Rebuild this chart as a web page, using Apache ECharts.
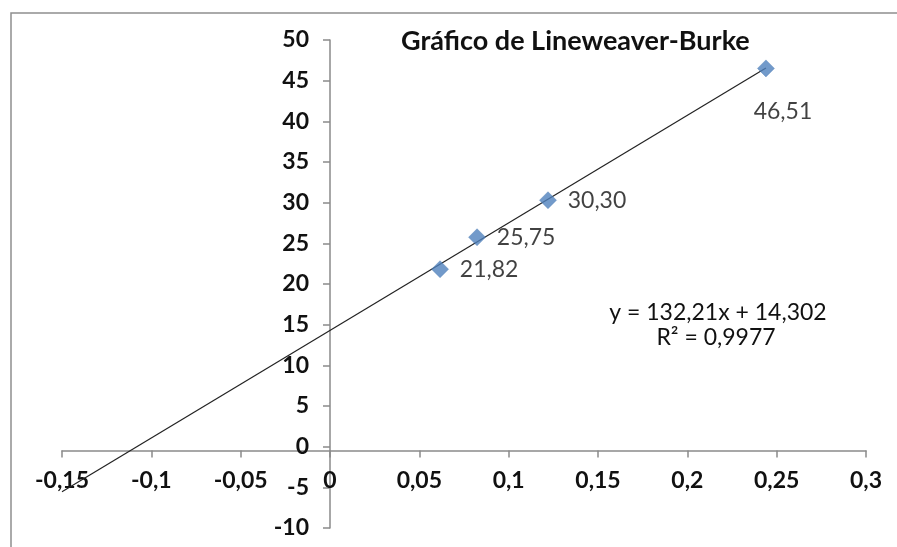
<!DOCTYPE html>
<html>
<head>
<meta charset="utf-8">
<script src="https://cdn.jsdelivr.net/npm/echarts@6/dist/echarts.min.js"></script>
<style>
  html, body { margin: 0; padding: 0; background: #fff; }
  #chart { width: 897px; height: 547px; }
</style>
</head>
<body>
<div id="chart"></div>
<script>
// 1/[S] values and 1/v values (Lineweaver-Burke double reciprocal)
const invS = [0.0616, 0.0823, 0.1220, 0.2440];
const invV = [21.82, 25.75, 30.30, 46.51];

// Linear trendline coefficients and fit quality
const slope = 132.21;
const intercept = 14.302;
const rSquared = 0.9977;

// Axis ranges and steps
const xMin = -0.15, xMax = 0.3, xStep = 0.05;
const yMin = -10, yMax = 50, yStep = 5;

const titleText = 'Gráfico de Lineweaver-Burke';

const fmtNum = (v, d) => (d === undefined ? String(parseFloat(v.toFixed(4))) : v.toFixed(d)).replace('.', ',');

const trendStart = xMin;
const trendEnd = Math.max(...invS);
const trendData = [
  [trendStart, slope * trendStart + intercept],
  [trendEnd, slope * trendEnd + intercept]
];

const eqText = 'y = ' + fmtNum(slope) + 'x + ' + fmtNum(intercept);
const r2Text = 'R² = ' + fmtNum(rSquared);

const font = 'Lato, "Open Sans", sans-serif';
const axisColor = '#8a8a8a';
const textColor = '#111';

const chart = echarts.init(document.getElementById('chart'));

function buildOption(xOffset, yOffset) {
  return {
    animation: false,
    backgroundColor: '#fff',
    title: {
      text: titleText,
      left: 401, top: 28, padding: 0,
      textStyle: { fontFamily: font, fontSize: 27, fontWeight: 'bold', color: textColor }
    },
    grid: { left: 62, right: 31, top: 40, bottom: 19 },
    xAxis: {
      type: 'value', min: xMin, max: xMax, interval: xStep,
      offset: xOffset,
      axisLine: { onZero: false, lineStyle: { color: axisColor, width: 1.5 } },
      axisTick: { show: true, length: 7, lineStyle: { color: axisColor, width: 1.5 } },
      splitLine: { show: false },
      axisLabel: {
        margin: 19, fontFamily: font, fontSize: 23, fontWeight: 'bold', color: textColor,
        formatter: v => fmtNum(v)
      }
    },
    yAxis: {
      type: 'value', min: yMin, max: yMax, interval: yStep,
      offset: yOffset,
      axisLine: { onZero: false, lineStyle: { color: axisColor, width: 1.5 } },
      axisTick: { show: true, length: 7, lineStyle: { color: axisColor, width: 1.5 } },
      splitLine: { show: false },
      axisLabel: {
        margin: 21, fontFamily: font, fontSize: 23, fontWeight: 'bold', color: textColor,
        formatter: v => fmtNum(v)
      }
    },
    graphic: [
      {
        type: 'rect', silent: true,
        shape: { x: 11, y: 13, width: 1000, height: 700 },
        style: { fill: 'none', stroke: '#8f8f8f', lineWidth: 1.5 }
      },
      {
        type: 'text', x: 718, y: 313,
        style: { text: eqText, font: '23px ' + font, fill: textColor, textAlign: 'center', textVerticalAlign: 'middle' }
      },
      {
        type: 'text', x: 716, y: 338,
        style: { text: r2Text, font: '23px ' + font, fill: textColor, textAlign: 'center', textVerticalAlign: 'middle' }
      }
    ],
    series: [
      {
        type: 'line',
        data: trendData,
        symbol: 'none',
        lineStyle: { color: '#222', width: 1.2 },
        z: 2
      },
      {
        type: 'scatter',
        symbol: 'diamond',
        symbolSize: 17,
        itemStyle: { color: '#4f81bd', borderColor: '#4a7ab5', borderWidth: 0.5 },
        z: 3,
        label: {
          show: true, position: 'right', distance: 11,
          fontFamily: font, fontSize: 23, color: textColor,
          formatter: p => fmtNum(p.value[1], 2)
        },
        data: invS.map((x, i) => {
          const item = { value: [x, invV[i]] };
          if (i === invS.length - 1) item.label = { position: 'bottom', distance: 23, offset: [17, 0] };
          return item;
        })
      }
    ]
  };
}

// First pass lays out the grid; then both axes are moved so they cross at the origin.
chart.setOption(buildOption(0, 0));
const rect = chart.getModel().getComponent('grid', 0).coordinateSystem.getRect();
const origin = chart.convertToPixel({ gridIndex: 0 }, [0, 0]);
const xOffset = -(rect.y + rect.height - origin[1]);
const yOffset = -(origin[0] - rect.x);
chart.setOption(buildOption(xOffset, yOffset));
</script>
</body>
</html>
